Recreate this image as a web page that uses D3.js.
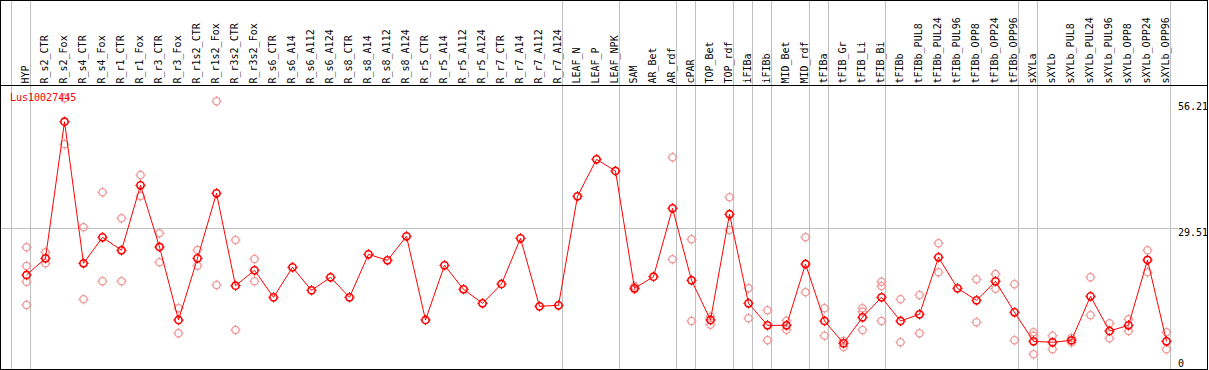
<!DOCTYPE html>
<html><head><meta charset="utf-8">
<script src="https://cdn.jsdelivr.net/npm/d3@7"></script>
<style>
html,body{margin:0;padding:0;background:#fff;}
svg{display:block;}
text{font-family:"DejaVu Sans Mono",monospace;font-size:10px;}
</style></head>
<body>
<svg id="chart" width="1209" height="370"></svg>
<script>
const title = "Lus10027445";
const categories = ["HYP","R_s2_CTR","R_s2_Fox","R_s4_CTR","R_s4_Fox","R_r1_CTR","R_r1_Fox","R_r3_CTR","R_r3_Fox","R_r1s2_CTR","R_r1s2_Fox","R_r3s2_CTR","R_r3s2_Fox","R_s6_CTR","R_s6_A14","R_s6_A112","R_s6_A124","R_s8_CTR","R_s8_A14","R_s8_A112","R_s8_A124","R_r5_CTR","R_r5_A14","R_r5_A112","R_r5_A124","R_r7_CTR","R_r7_A14","R_r7_A112","R_r7_A124","LEAF_N","LEAF_P","LEAF_NPK","SAM","AR_Bet","AR_rdf","cPAR","TOP_Bet","TOP_rdf","iFIBa","iFIBb","MID_Bet","MID_rdf","tFIBa","tFIB_Gr","tFIB_Li","tFIB_Bi","tFIBb","tFIBb_PUL8","tFIBb_PUL24","tFIBb_PUL96","tFIBb_OPP8","tFIBb_OPP24","tFIBb_OPP96","sXYLa","sXYLb","sXYLb_PUL8","sXYLb_PUL24","sXYLb_PUL96","sXYLb_OPP8","sXYLb_OPP24","sXYLb_OPP96"];
const means = [19.56,23.12,52.23,22.05,27.59,24.82,38.67,25.53,9.97,23.12,36.97,17.28,20.56,14.81,21.2,16.3,19.07,14.81,23.97,22.69,27.81,9.97,21.63,16.51,13.53,17.64,27.38,12.89,13.1,36.33,44.21,41.72,16.73,19.2,33.77,18.43,9.97,32.5,13.53,8.84,8.84,21.9,9.76,5.01,10.55,14.81,9.76,11.19,23.33,16.73,14.17,18.22,11.61,5.43,5.22,5.65,15.02,7.63,8.84,22.76,5.43];
const replicates = [[25.46,21.48,18.13,13.17],[24.4,22.05],[57.21,47.41],[29.73,14.38],[37.18,18.22],[31.64,18.22],[40.87,36.39],[28.45,22.27],[12.47,7.14],[24.89,21.54],[56.57,17.43],[27.02,7.84],[22.97,18.22],[],[],[],[],[],[],[],[],[],[],[],[],[],[],[],[],[],[],[],[17.2,16.5],[],[44.64,22.91],[27.17,9.76],[10.68,8.97],[36.12,29.15],[16.73,10.33],[12.04,5.65],[9.82,7.91],[27.59,15.87],[12.47,6.63],[5.5,4.22],[12.47,11.74,7.84],[18.13,17.22,9.76],[14.38,5.22],[15.3,7.14],[26.32,20.14],[],[18.64,9.48],[19.77,16.64],[17.58,5.65],[7.35,6.63,2.66],[6.63,3.73],[6.14,5.16],[19.07,10.97],[9.27,6.07],[10.12,7.63],[24.82,20.14],[7.35,3.73]];
const groupEnds = ["HYP","R_r7_A124","LEAF_NPK","AR_rdf","cPAR","TOP_rdf","iFIBa","iFIBb","MID_rdf","tFIBa","tFIB_Bi","tFIBb_OPP96","sXYLa","sXYLb_OPP96"];
const yTicks = [56.21, 29.51, 0];
const gridTicks = [29.51];

const svg = d3.select("#chart");
const W = 1209, H = 370;
const x = d3.scaleBand().domain(categories).range([11.5, 11.5 + 19*categories.length]).paddingInner(0).paddingOuter(0);
const px = c => x(c) + 15;
const y = d3.scaleLinear().domain([0, 56.21]).range([366.8, 103]);
const red = "#ff0000", pale = "rgb(240,150,150)", gray = "#c0c0c0";

// vertical group lines
const vlines = [x(categories[0])].concat(groupEnds.map(c => x(c) + 19));
svg.append("g").selectAll("line").data(vlines).join("line")
  .attr("x1", d => d).attr("x2", d => d).attr("y1", 0).attr("y2", H)
  .attr("stroke", gray).attr("stroke-width", 1);

// horizontal grid
svg.append("g").selectAll("line").data(gridTicks).join("line")
  .attr("x1", 1).attr("x2", 1178)
  .attr("y1", d => Math.floor(y(d)) + 0.5).attr("y2", d => Math.floor(y(d)) + 0.5)
  .attr("stroke", gray).attr("stroke-width", 1);

function marker(g, cx, cy, color, sw) {
  const r = 3.6;
  g.append("circle").attr("cx", cx).attr("cy", cy).attr("r", r)
    .attr("fill", "none").attr("stroke", color).attr("stroke-width", sw);
  [[0,-1],[0,1],[-1,0],[1,0]].forEach(([dx,dy]) => {
    g.append("line").attr("x1", cx + dx*r).attr("y1", cy + dy*r)
      .attr("x2", cx + dx*(r+1.6)).attr("y2", cy + dy*(r+1.6))
      .attr("stroke", color).attr("stroke-width", 1);
  });
}

// replicates
const gr = svg.append("g");
categories.forEach((c, i) => {
  replicates[i].forEach(v => marker(gr, px(c), y(v), pale, 1.3));
});

// mean line
svg.append("path")
  .datum(categories.map((c, i) => [px(c), y(means[i])]))
  .attr("d", d3.line())
  .attr("fill", "none").attr("stroke", red).attr("stroke-width", 1);

const gm = svg.append("g");
categories.forEach((c, i) => marker(gm, px(c), y(means[i]), red, 1.6));

// category labels (rotated)
svg.append("g").selectAll("text").data(categories).join("text")
  .attr("transform", d => `translate(${px(d) + 2.5},83.5) rotate(-90)`)
  .attr("text-anchor", "start").attr("fill", "#000").text(d => d);

// right-side value labels
svg.append("g").selectAll("text").data(yTicks).join("text")
  .attr("x", 1178).attr("y", d => Math.min(y(d) + 7.3, 367.3))
  .attr("fill", "#000").text(d => d === 0 ? "0" : d.toFixed(2));

// title
svg.append("text").attr("x", 10).attr("y", 100.5).attr("fill", red).text(title);

// header separator and border
svg.append("line").attr("x1", 0).attr("x2", 1208).attr("y1", 85.5).attr("y2", 85.5)
  .attr("stroke", "#000").attr("stroke-width", 1);
svg.append("rect").attr("x", 0.5).attr("y", 0.5).attr("width", 1207).attr("height", 369)
  .attr("fill", "none").attr("stroke", "#000").attr("stroke-width", 1);
</script>
</body></html>
